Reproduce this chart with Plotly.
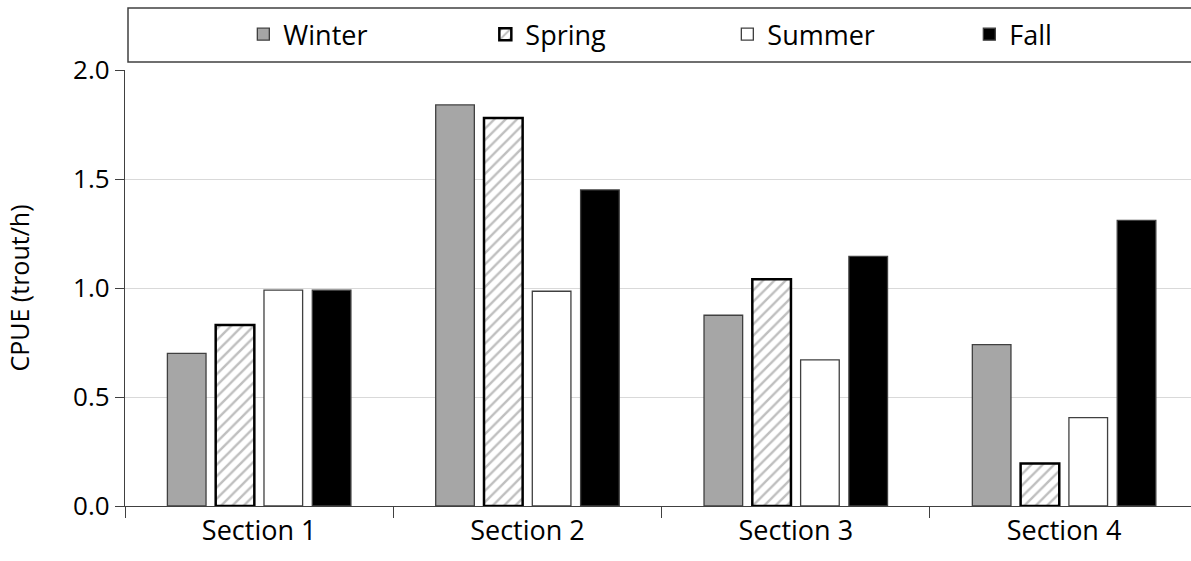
import plotly.graph_objects as go

sections = ["Section 1", "Section 2", "Section 3", "Section 4"]
winter = [0.70, 1.84, 0.875, 0.74]
spring = [0.83, 1.78, 1.04, 0.195]
summer = [0.99, 0.985, 0.67, 0.405]
fall = [0.99, 1.45, 1.145, 1.31]
y_ticks = [0.0, 0.5, 1.0, 1.5, 2.0]
y_tick_labels = ["0.0", "0.5", "1.0", "1.5", "2.0"]

FONT = "'Open Sans', 'Liberation Sans', sans-serif"

fig = go.Figure()
fig.add_trace(go.Bar(name="Winter", x=sections, y=winter,
                     marker=dict(color="#a6a6a6", line=dict(color="#404040", width=1.3))))
fig.add_trace(go.Bar(name="Spring", x=sections, y=spring,
                     marker=dict(color="white", line=dict(color="black", width=2.5),
                                 pattern=dict(shape="/", fgcolor="#bfbfbf", bgcolor="white",
                                              size=8, solidity=0.3, fillmode="replace"))))
fig.add_trace(go.Bar(name="Summer", x=sections, y=summer,
                     marker=dict(color="white", line=dict(color="#404040", width=1.3))))
fig.add_trace(go.Bar(name="Fall", x=sections, y=fall,
                     marker=dict(color="black", line=dict(color="#404040", width=1.3))))

fig.update_layout(
    width=1191, height=561,
    margin=dict(l=125, r=0, t=70, b=55, autoexpand=False),
    paper_bgcolor="white", plot_bgcolor="white",
    barmode="group", bargap=0.28, bargroupgap=0.2,
    font=dict(family=FONT, size=26, color="black"),
    showlegend=True,
    legend=dict(orientation="h", x=0.111, xanchor="left", y=0.982, yanchor="top",
                yref="container", entrywidth=197, entrywidthmode="pixels",
                font=dict(family=FONT, size=27), bgcolor="rgba(0,0,0,0)", itemwidth=30),
    shapes=[dict(type="rect", xref="paper", yref="paper",
                 x0=(128 - 125) / 1066, x1=1.01, y0=(506 - 62) / 436, y1=(506 - 8) / 436,
                 line=dict(color="#404040", width=1.5), fillcolor="rgba(0,0,0,0)")],
    xaxis=dict(range=[-0.5, 3.473], showline=True, linecolor="#404040", linewidth=1.3,
               ticks="outside", tickson="boundaries", ticklen=11, tickcolor="#404040",
               tickfont=dict(family=FONT, size=27), showgrid=False),
    yaxis=dict(range=[0, 2.0], tickvals=y_ticks, ticktext=y_tick_labels,
               showline=True, linecolor="#404040", linewidth=1.3,
               ticks="outside", ticklen=9, tickcolor="#404040",
               showgrid=True, gridcolor="#d9d9d9", gridwidth=1.3,
               tickfont=dict(family=FONT, size=26),
               title=dict(text="CPUE (trout/h)", font=dict(family=FONT, size=25), standoff=36)),
)
fig.write_html("out.html", post_script="document.body.style.margin='0px';",
               config={"displayModeBar": False})
